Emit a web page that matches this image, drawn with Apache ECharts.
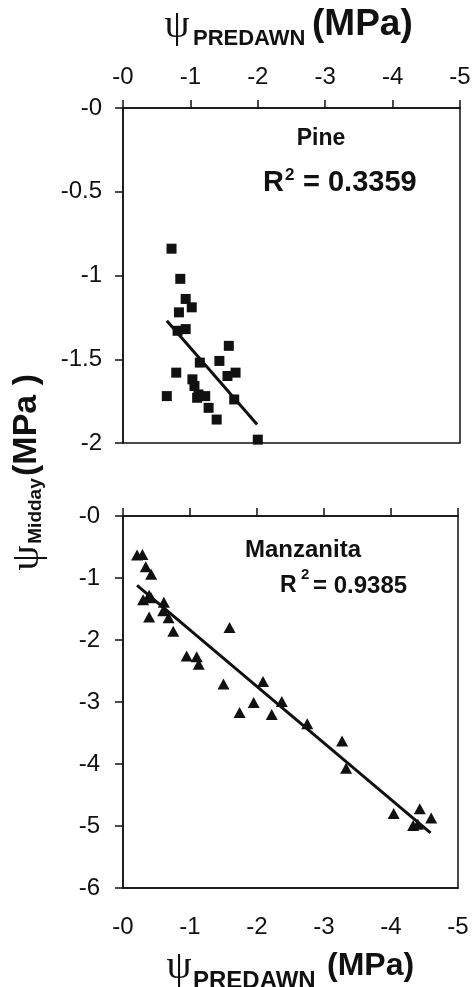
<!DOCTYPE html>
<html>
<head>
<meta charset="utf-8">
<script src="https://cdn.jsdelivr.net/npm/echarts@6/dist/echarts.min.js"></script>
<style>
  html, body { margin: 0; padding: 0; background: #fff; }
  #chart { width: 474px; height: 987px; }
</style>
</head>
<body>
<div id="chart"></div>
<script>
// tick labels
const xTicks = ['-0', '-1', '-2', '-3', '-4', '-5']
const pineYTicks = ['-0', '-0.5', '-1', '-1.5', '-2']
const manzYTicks = ['-0', '-1', '-2', '-3', '-4', '-5', '-6']

// Pine: predawn vs midday (MPa)
const pineX = [-0.72, -0.85, -0.93, -1.02, -0.83, -0.81, -0.93, -1.57, -1.14, -1.43, -0.79, -1.03,
  -1.55, -1.67, -1.06, -0.65, -1.12, -1.22, -1.10, -1.65, -1.27, -1.39, -2.00]
const pineY = [-0.84, -1.02, -1.14, -1.19, -1.22, -1.33, -1.32, -1.42, -1.52, -1.51, -1.58, -1.62,
  -1.60, -1.58, -1.66, -1.72, -1.71, -1.72, -1.73, -1.74, -1.79, -1.86, -1.98]
const pineFitX = [-0.65, -1.99]
const pineFitY = [-1.27, -1.89]

// Manzanita
const manzX = [-0.21, -0.29, -0.34, -0.42, -0.39, -0.30, -0.42, -0.61, -0.60, -0.39, -0.68, -0.75,
  -1.59, -0.95, -1.10, -1.13, -1.50, -2.09, -1.95, -1.74, -2.22, -2.37, -2.75, -3.27, -3.33,
  -4.04, -4.43, -4.60, -4.33, -4.40]
const manzY = [-0.63, -0.62, -0.82, -0.94, -1.28, -1.35, -1.32, -1.39, -1.53, -1.63, -1.64, -1.86,
  -1.80, -2.26, -2.27, -2.39, -2.71, -2.67, -3.01, -3.17, -3.20, -2.99, -3.35, -3.63, -4.07,
  -4.80, -4.72, -4.87, -4.99, -4.97]
const manzFitX = [-0.21, -4.59]
const manzFitY = [-1.12, -5.11]

const ink = '#111'
const tickFont = { fontSize: 24, color: ink, fontFamily: 'Liberation Sans' }

const zip = (a, b) => a.map((v, i) => [v, b[i]])

let myChart = echarts.init(document.getElementById('chart'))

const axisLine = { show: true, onZero: false, lineStyle: { color: ink, width: 1.5 } }
const tickOut = { show: true, length: 8, lineStyle: { color: ink, width: 1.5 } }

let option = {
  animation: false,
  backgroundColor: '#fff',
  grid: [
    { left: 123, top: 108, width: 337, height: 335, show: true, borderColor: ink, borderWidth: 1.5 },
    { left: 123, top: 516, width: 335, height: 372, show: true, borderColor: ink, borderWidth: 1.5 },
  ],
  xAxis: [
    {
      gridIndex: 0, type: 'value', position: 'top', min: -5, max: 0, interval: 1, inverse: true,
      axisLine: axisLine, axisTick: tickOut, splitLine: { show: false },
      axisLabel: { ...tickFont, margin: 19, formatter: v => xTicks[Math.round(-v)] },
    },
    {
      gridIndex: 1, type: 'value', position: 'bottom', min: -5, max: 0, interval: 1, inverse: true,
      axisLine: axisLine, axisTick: { show: false }, splitLine: { show: false },
      axisLabel: { ...tickFont, margin: 27, formatter: v => xTicks[Math.round(-v)] },
    },
    {
      gridIndex: 1, type: 'value', position: 'top', min: -5, max: 0, interval: 1, inverse: true,
      axisLine: axisLine, axisTick: tickOut, splitLine: { show: false },
      axisLabel: { show: false },
    },
  ],
  yAxis: [
    {
      gridIndex: 0, type: 'value', min: -2, max: 0, interval: 0.5,
      axisLine: axisLine, axisTick: tickOut, splitLine: { show: false },
      axisLabel: { ...tickFont, margin: 21, formatter: v => pineYTicks[Math.round(-v * 2)] },
    },
    {
      gridIndex: 1, type: 'value', min: -6, max: 0, interval: 1,
      axisLine: axisLine, axisTick: tickOut, splitLine: { show: false },
      axisLabel: { ...tickFont, margin: 23, formatter: v => manzYTicks[Math.round(-v)] },
    },
  ],
  series: [
    {
      name: 'Pine', type: 'scatter', xAxisIndex: 0, yAxisIndex: 0,
      symbol: 'rect', symbolSize: 10, itemStyle: { color: ink, opacity: 1 },
      data: zip(pineX, pineY), z: 3,
    },
    {
      name: 'Pine fit', type: 'line', xAxisIndex: 0, yAxisIndex: 0,
      showSymbol: false, lineStyle: { color: ink, width: 3 },
      data: zip(pineFitX, pineFitY), z: 4,
    },
    {
      name: 'Manzanita', type: 'scatter', xAxisIndex: 1, yAxisIndex: 1,
      symbol: 'triangle', symbolSize: [12, 11], itemStyle: { color: ink, opacity: 1 },
      data: zip(manzX, manzY), z: 3,
    },
    {
      name: 'Manzanita fit', type: 'line', xAxisIndex: 1, yAxisIndex: 1,
      showSymbol: false, lineStyle: { color: ink, width: 3 },
      data: zip(manzFitX, manzFitY), z: 4,
    },
  ],
  graphic: [
    // top title
    { type: 'text', x: 177, y: 26, style: { text: 'ψ', font: '40px "Liberation Serif"', fill: ink, align: 'center', verticalAlign: 'middle' } },
    { type: 'text', x: 193, y: 39, style: { text: 'PREDAWN', font: 'bold 22px "Liberation Sans"', fill: ink, verticalAlign: 'middle' } },
    { type: 'text', x: 312, y: 25, style: { text: '(MPa)', font: 'bold 37px "Liberation Sans"', fill: ink, verticalAlign: 'middle' } },
    // bottom title
    { type: 'text', x: 179, y: 967, style: { text: 'ψ', font: '40px "Liberation Serif"', fill: ink, align: 'center', verticalAlign: 'middle' } },
    { type: 'text', x: 193, y: 981, style: { text: 'PREDAWN', font: 'bold 24px "Liberation Sans"', fill: ink, verticalAlign: 'middle' } },
    { type: 'text', x: 327, y: 966, style: { text: '(MPa)', font: 'bold 32px "Liberation Sans"', fill: ink, verticalAlign: 'middle' } },
    // y title (rotated)
    { type: 'text', x: 27, y: 558, rotation: Math.PI / 2, style: { text: 'ψ', font: '40px "Liberation Serif"', fill: ink, align: 'center', verticalAlign: 'middle' } },
    { type: 'text', x: 36, y: 511, rotation: Math.PI / 2, style: { text: 'Midday', font: 'bold 19px "Liberation Sans"', fill: ink, align: 'center', verticalAlign: 'middle' } },
    { type: 'text', x: 27, y: 425, rotation: Math.PI / 2, style: { text: '(MPa )', font: 'bold 34px "Liberation Sans"', fill: ink, align: 'center', verticalAlign: 'middle' } },
    // Pine annotation
    { type: 'text', x: 321, y: 139, style: { text: 'Pine', font: 'bold 23px "Liberation Sans"', fill: ink, align: 'center', verticalAlign: 'middle' } },
    { type: 'text', x: 263, y: 183, style: { text: 'R', font: 'bold 29px "Liberation Sans"', fill: ink, verticalAlign: 'middle' } },
    { type: 'text', x: 285, y: 175, style: { text: '2', font: 'bold 17px "Liberation Sans"', fill: ink, verticalAlign: 'middle' } },
    { type: 'text', x: 303, y: 183, style: { text: '= 0.3359', font: 'bold 29px "Liberation Sans"', fill: ink, verticalAlign: 'middle' } },
    // Manzanita annotation
    { type: 'text', x: 245, y: 550, style: { text: 'Manzanita', font: 'bold 24px "Liberation Sans"', fill: ink, verticalAlign: 'middle' } },
    { type: 'text', x: 280, y: 586, style: { text: 'R', font: 'bold 23px "Liberation Sans"', fill: ink, verticalAlign: 'middle' } },
    { type: 'text', x: 301, y: 575, style: { text: '2', font: 'bold 15px "Liberation Sans"', fill: ink, verticalAlign: 'middle' } },
    { type: 'text', x: 313, y: 586, style: { text: '= 0.9385', font: 'bold 24px "Liberation Sans"', fill: ink, verticalAlign: 'middle' } },
  ],
}
myChart.setOption(option)
</script>
</body>
</html>
